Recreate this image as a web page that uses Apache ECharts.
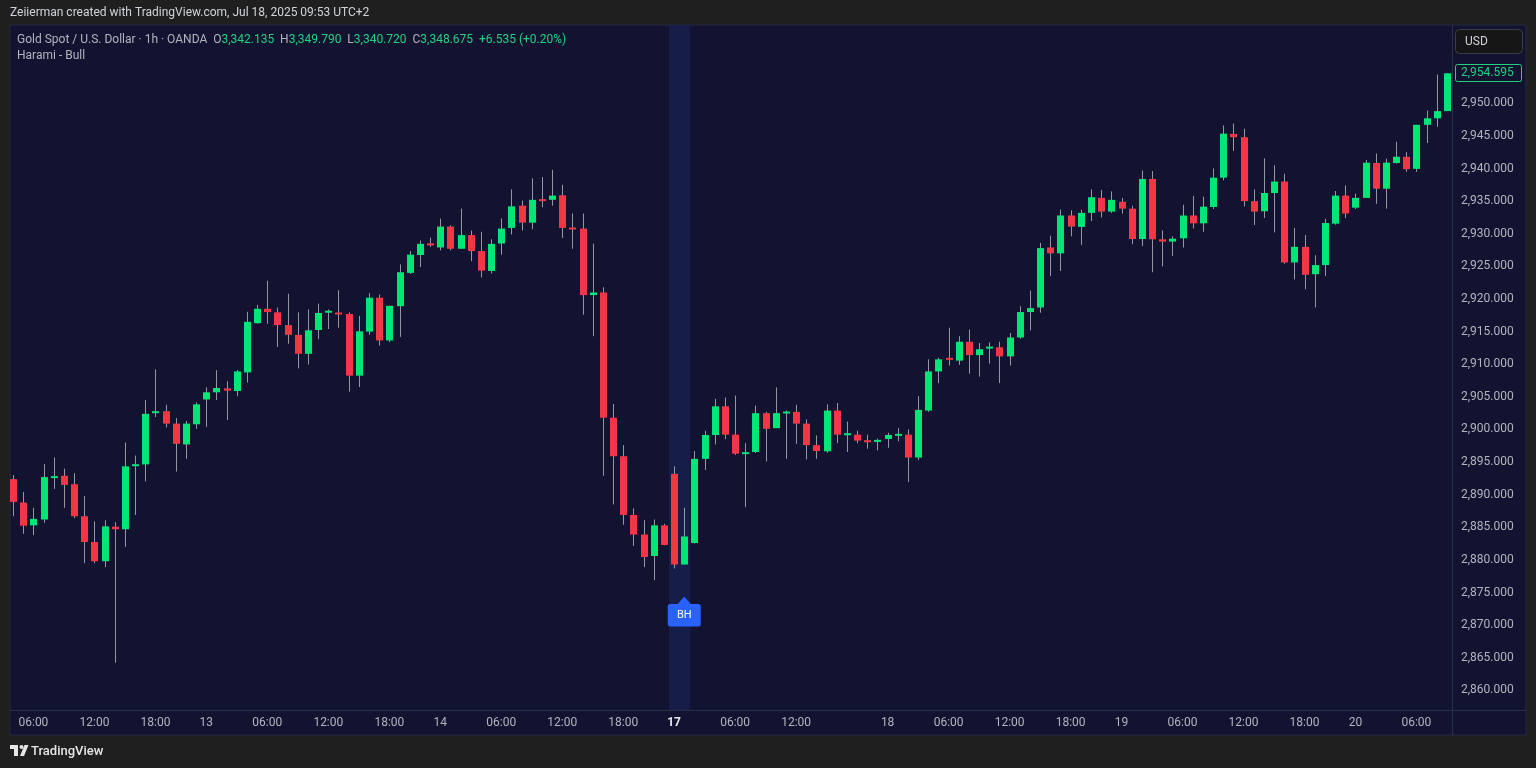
<!DOCTYPE html>
<html>
<head>
<meta charset="utf-8">
<script src="https://cdn.jsdelivr.net/npm/echarts@6/dist/echarts.min.js"></script>
<style>
html,body{margin:0;padding:0;background:#1f1f1f;}
#chart{width:1536px;height:768px;}
</style>
</head>
<body>
<div id="chart"></div>
<script>
// ---- trading sessions (day, first hour, last hour) used to build the time categories ----
const sessions = [['12',4,22],['13',0,22],['14',0,22],['17',0,20],['18',0,22],['19',0,22],['20',0,9]];

// ---- time axis tick labels (category index -> text) ----
const tickIdx  = [2,8,14,19,25,31,37,42,48,54,60,65,71,77,86,92,98,104,109,115,121,127,132,138];
const tickText = ['06:00','12:00','18:00','13','06:00','12:00','18:00','14','06:00','12:00','18:00','17','06:00','12:00','18','06:00','12:00','18:00','19','06:00','12:00','18:00','20','06:00'];

// ---- price axis tick labels ----
const yTicks = [2860,2865,2870,2875,2880,2885,2890,2895,2900,2905,2910,2915,2920,2925,2930,2935,2940,2945,2950];

// ---- OHLC values (1h candles) ----
const opens = [
2892.4,2888.8,2885.3,2886.2,2892.6,2892.9,2891.6,2886.7,2882.75,2879.8,
2885.1,2884.7,2894.45,2894.65,2902.5,2902.8,2900.9,2897.7,2900.8,2904.6,
2905.7,2906.3,2905.9,2908.75,2916.3,2918.5,2917.95,2916.0,2914.5,2911.6,
2915.25,2918.0,2917.9,2917.7,2908.25,2915.0,2920.2,2913.65,2918.9,2924.0,
2926.75,2928.5,2927.9,2931.1,2927.7,2929.8,2927.35,2924.3,2928.5,2930.9,
2934.3,2931.7,2935.2,2935.2,2935.9,2930.9,2930.8,2920.6,2921.0,2901.8,
2895.9,2886.9,2883.9,2880.6,2885.3,2893.2,2879.3,2882.6,2895.5,2899.15,
2903.55,2899.2,2896.25,2896.55,2902.5,2900.2,2902.5,2902.7,2900.9,2897.6,
2896.65,2902.9,2899.2,2899.2,2898.3,2898.1,2898.55,2899.1,2899.2,2895.7,
2902.9,2908.9,2910.95,2910.55,2913.45,2911.4,2912.4,2912.6,2911.2,2914.1,
2918.0,2918.7,2927.9,2927.0,2932.8,2931.05,2933.2,2935.5,2933.4,2934.9,
2933.85,2929.2,2938.4,2929.15,2928.8,2929.3,2932.8,2931.6,2934.1,2938.6,
2945.3,2944.8,2935.0,2933.45,2936.25,2938.0,2925.6,2928.0,2923.8,2925.2,
2931.55,2935.85,2934.0,2935.5,2940.85,2936.9,2940.85,2941.8,2939.95,2946.7,
2947.7,2948.8];
const highs = [
2893.0,2890.4,2888.0,2894.7,2895.7,2894.0,2893.3,2889.8,2885.9,2886.1,
2885.8,2898.0,2896.0,2904.5,2909.2,2903.8,2901.75,2901.3,2904.15,2906.45,
2909.1,2907.4,2909.1,2918.05,2919.1,2922.8,2918.7,2920.8,2917.95,2918.4,
2919.3,2918.4,2921.35,2917.95,2917.4,2920.9,2920.7,2919.0,2925.3,2927.35,
2928.95,2929.4,2932.3,2931.3,2933.85,2930.5,2930.3,2929.15,2932.35,2936.8,
2935.1,2938.5,2938.7,2939.8,2937.5,2933.1,2933.1,2928.5,2921.8,2903.9,
2897.6,2887.9,2886.1,2886.2,2885.55,2894.35,2888.0,2896.7,2899.8,2904.7,
2904.9,2905.2,2897.9,2903.65,2902.7,2906.45,2902.9,2903.8,2901.55,2899.1,
2903.85,2904.05,2901.2,2899.8,2899.2,2898.6,2899.5,2900.2,2900.0,2905.1,
2910.75,2911.0,2915.6,2914.3,2915.3,2913.25,2913.35,2913.45,2914.8,2918.9,
2921.3,2928.6,2929.7,2933.7,2933.6,2933.7,2936.8,2936.7,2936.5,2935.5,
2934.3,2939.7,2939.6,2930.5,2929.6,2934.45,2935.8,2935.7,2940.0,2946.6,
2946.9,2946.1,2936.8,2941.55,2940.5,2939.2,2930.9,2929.8,2926.7,2932.3,
2936.55,2937.4,2936.15,2941.3,2942.3,2941.5,2944.1,2942.5,2946.7,2948.9,
2954.4,2954.65];
const lows = [
2886.7,2884.0,2883.8,2885.7,2890.9,2888.0,2886.4,2879.5,2879.5,2878.9,
2864.25,2882.0,2886.9,2892.05,2901.9,2900.3,2893.55,2895.5,2900.1,2900.4,
2904.5,2901.45,2905.1,2907.2,2916.2,2916.2,2912.65,2913.15,2909.35,2909.95,
2913.85,2915.4,2915.6,2905.8,2906.5,2914.5,2912.85,2913.4,2914.2,2923.85,
2924.9,2928.0,2927.45,2927.45,2927.7,2925.8,2923.3,2923.9,2926.8,2929.9,
2930.5,2930.7,2934.05,2934.3,2929.35,2927.7,2917.6,2914.3,2892.9,2888.5,
2885.4,2882.15,2878.9,2876.9,2882.25,2878.7,2879.3,2882.5,2893.8,2897.7,
2898.5,2896.1,2888.1,2896.4,2895.1,2900.2,2895.5,2897.8,2895.4,2895.5,
2896.45,2897.9,2896.55,2897.9,2897.05,2896.8,2897.2,2898.2,2891.95,2895.3,
2902.7,2907.1,2909.8,2909.9,2908.55,2908.1,2910.1,2907.1,2909.8,2913.9,
2915.2,2917.9,2923.5,2924.3,2929.6,2928.3,2931.95,2932.5,2933.2,2933.1,
2928.4,2928.1,2924.1,2925.0,2926.6,2927.9,2930.8,2930.3,2933.8,2938.2,
2942.7,2934.2,2931.35,2932.4,2930.2,2925.4,2923.0,2921.5,2918.7,2923.5,
2931.4,2932.4,2933.8,2935.5,2934.6,2933.85,2940.75,2939.5,2939.5,2943.9,
2946.4,2948.8];
const closes = [
2888.9,2885.25,2886.3,2892.7,2892.8,2891.5,2886.7,2882.75,2879.8,2885.15,
2884.7,2894.35,2894.6,2902.4,2902.8,2900.9,2897.8,2900.9,2903.85,2905.7,
2906.35,2905.95,2908.9,2916.5,2918.5,2918.0,2916.0,2914.5,2911.6,2915.2,
2917.85,2918.1,2917.65,2908.25,2915.05,2920.2,2913.65,2918.95,2924.1,2926.8,
2928.45,2928.25,2931.1,2927.7,2929.8,2927.35,2924.35,2928.45,2930.8,2934.2,
2931.7,2935.2,2935.1,2935.85,2930.9,2930.7,2920.6,2921.0,2901.8,2895.9,
2886.9,2883.9,2880.45,2885.3,2882.3,2879.3,2883.6,2895.5,2899.15,2903.55,
2899.2,2896.3,2896.5,2902.5,2900.1,2902.5,2902.7,2900.9,2897.6,2896.7,
2902.9,2899.2,2899.35,2898.3,2898.1,2898.4,2899.15,2899.25,2895.7,2903.0,
2908.9,2910.75,2910.7,2913.45,2911.4,2912.3,2912.7,2911.2,2914.1,2918.0,
2918.6,2927.8,2927.0,2932.8,2931.1,2933.2,2935.6,2933.4,2935.2,2933.85,
2929.2,2938.4,2929.15,2928.8,2929.25,2932.8,2931.6,2934.15,2938.6,2945.35,
2944.8,2935.0,2933.4,2936.25,2938.0,2925.6,2928.0,2923.7,2925.2,2931.65,
2935.85,2933.1,2935.5,2940.9,2936.9,2940.9,2941.8,2939.9,2946.7,2947.7,
2948.8,2954.595];

// ---- pattern marker (Harami - Bull) ----
const patternStart = 65, patternEnd = 66, patternLabel = 'BH';

// ---- legend texts ----
const symbolTitle = 'Gold Spot / U.S. Dollar · 1h · OANDA';
const legendOHLC = [['O','3,342.135'],['H','3,349.790'],['L','3,340.720'],['C','3,348.675']];
const legendChange = '+6.535 (+0.20%)';
const indicatorName = 'Harami - Bull';
const creditText = 'Zeiierman created with TradingView.com, Jul 18, 2025 09:53 UTC+2';

// ---- build tables ----
const categories = [];
sessions.forEach(([d, h0, h1]) => { for (let h = h0; h <= h1; h++) categories.push(d + ' ' + String(h).padStart(2,'0') + ':00'); });
const candleData = opens.map((o, i) => [i, o, closes[i], lows[i], highs[i]]);
const tickMap = {}; tickIdx.forEach((ix, k) => tickMap[ix] = tickText[k]);

const UP = '#00e676', DOWN = '#f23645', WICK = '#9598a1';
const FONT = 'Roboto, "Noto Sans", sans-serif';

function renderCandle(params, api) {
  const x = api.value(0);
  const o = api.value(1), c = api.value(2), l = api.value(3), h = api.value(4);
  const pO = api.coord([x, o]), pC = api.coord([x, c]);
  const pL = api.coord([x, l]), pH = api.coord([x, h]);
  const bw = Math.round(api.size([1, 0])[0] * 0.68);
  const cx = Math.round(pO[0]);
  let top = Math.min(pO[1], pC[1]);
  let hgt = Math.abs(pO[1] - pC[1]);
  if (hgt < 2) { top = (pO[1] + pC[1]) / 2 - 1; hgt = 2; }
  return {
    type: 'group',
    children: [
      { type: 'line', shape: { x1: cx + 0.5, y1: pH[1], x2: cx + 0.5, y2: pL[1] }, style: { stroke: WICK, lineWidth: 1 } },
      { type: 'rect', shape: { x: cx + 0.5 - bw / 2, y: top, width: bw, height: hgt }, style: { fill: c >= o ? UP : DOWN } }
    ]
  };
}

// highlight band covering the pattern candles, full plot height
function renderBand(params, api) {
  const a = api.value(0), b = api.value(1);
  const step = api.size([1, 0])[0];
  const pa = api.coord([a, lows[a]]), pb = api.coord([b, lows[b]]);
  const cs = params.coordSys;
  const x0 = pa[0] - step / 2, x1 = pb[0] + step / 2 + 1;
  return { type: 'rect', shape: { x: x0, y: cs.y, width: x1 - x0, height: cs.height }, style: { fill: '#151d48' } };
}

const legendRich = '{t|' + symbolTitle + '}  ' + legendOHLC.map(([k, v]) => '{t|' + k + '}{v|' + v + '}').join('  ') + '  {v|' + legendChange + '}';

const chart = echarts.init(document.getElementById('chart'), null, { renderer: 'canvas' });
const option = {
  backgroundColor: '#1f1f1f',
  animation: false,
  grid: { left: 8, right: 84, top: 25, height: 685 },
  xAxis: {
    type: 'category',
    data: categories,
    boundaryGap: true,
    axisLine: { show: false },
    axisTick: { show: false },
    splitLine: { show: false },
    axisLabel: {
      interval: (i) => tickMap[i] !== undefined,
      formatter: (v, i) => tickMap[i] === '17' ? '{b|17}' : (tickMap[i] || ''),
      color: '#b2b5be', fontSize: 12, fontFamily: FONT, margin: 7,
      rich: { b: { color: '#e6e8ee', fontWeight: 'bold', fontSize: 12, fontFamily: FONT } }
    }
  },
  yAxis: {
    type: 'value',
    position: 'right',
    min: 2857, max: 2962,
    axisLine: { show: false },
    axisTick: { show: false },
    splitLine: { show: false },
    axisLabel: {
      customValues: yTicks,
      formatter: (v) => v.toLocaleString('en-US', { minimumFractionDigits: 3, maximumFractionDigits: 3 }),
      color: '#b2b5be', fontSize: 12, fontFamily: FONT, margin: 9
    }
  },
  series: [{
    type: 'custom',
    renderItem: renderBand,
    data: [[patternStart, patternEnd]],
    encode: { x: [0, 1] },
    silent: true,
    z: 1
  }, {
    type: 'custom',
    renderItem: renderCandle,
    data: candleData,
    encode: { x: 0, y: [1, 2, 3, 4] },
    clip: true,
    z: 5,
    markPoint: {
      silent: true,
      data: [{
        coord: [categories[patternEnd], lows[patternEnd]],
        symbol: 'path://M16.5,0 L23,7.5 L30.5,7.5 Q33,7.5 33,10 L33,27.5 Q33,30 30.5,30 L2.5,30 Q0,30 0,27.5 L0,10 Q0,7.5 2.5,7.5 L10,7.5 Z',
        symbolSize: [33, 30],
        symbolKeepAspect: false,
        symbolOffset: [0, 47],
        itemStyle: { color: '#2962ff' },
        label: { show: true, formatter: patternLabel, color: '#ffffff', fontSize: 11, fontFamily: FONT, offset: [0, 4] }
      }]
    }
  }],
  graphic: [
    { type: 'rect', z: -10, shape: { x: 10, y: 25, width: 1516, height: 710 }, style: { fill: '#121330', stroke: '#252a3e', lineWidth: 1 } },
    { type: 'line', z: 1, shape: { x1: 10, y1: 710.5, x2: 1526, y2: 710.5 }, style: { stroke: '#2a2e45', lineWidth: 1 } },
    { type: 'line', z: 1, shape: { x1: 1452.5, y1: 25, x2: 1452.5, y2: 735 }, style: { stroke: '#2a2e45', lineWidth: 1 } },
    { type: 'rect', z: 20, shape: { x: 1455.5, y: 29.5, width: 67, height: 24, r: 4 }, style: { fill: '#161616', stroke: '#3a3d48', lineWidth: 1 } },
    { type: 'text', z: 21, x: 1465, y: 41.5, style: { text: 'USD', fill: '#d1d4dc', font: '12px ' + FONT, verticalAlign: 'middle' } },
    { type: 'text', z: 21, x: 10, y: 13, style: { text: creditText, fill: '#d1d4dc', font: '12px ' + FONT, verticalAlign: 'middle' } },
    { type: 'text', z: 21, x: 17, y: 40, style: {
        text: legendRich, verticalAlign: 'middle', font: '12px ' + FONT,
        rich: { t: { fill: '#b2b5be', font: '12px ' + FONT }, v: { fill: '#22d17f', font: '12px ' + FONT } }
      } },
    { type: 'text', z: 21, x: 17, y: 56, style: { text: indicatorName, fill: '#b2b5be', font: '12px ' + FONT, verticalAlign: 'middle' } },
    // TradingView logo
    { type: 'group', z: 21, children: [
      { type: 'rect', shape: { x: 10, y: 745, width: 8, height: 4 }, style: { fill: '#e6e6e6' } },
      { type: 'rect', shape: { x: 14, y: 745, width: 4, height: 11 }, style: { fill: '#e6e6e6' } },
      { type: 'circle', shape: { cx: 21.5, cy: 747, r: 2 }, style: { fill: '#e6e6e6' } },
      { type: 'polygon', shape: { points: [[20, 756], [24.5, 745], [28.5, 745], [24, 756]] }, style: { fill: '#e6e6e6' } }
    ] },
    { type: 'text', z: 21, x: 31, y: 751.5, style: { text: 'TradingView', fill: '#e6e6e6', font: '500 13px ' + FONT, verticalAlign: 'middle' } }
  ]
};
chart.setOption(option);

// last price label on the price axis, positioned through the axis scale
const lastClose = closes[closes.length - 1];
const ly = chart.convertToPixel({ yAxisIndex: 0 }, lastClose);
chart.setOption({
  graphic: option.graphic.concat([
    { type: 'rect', z: 22, shape: { x: 1455.5, y: Math.round(ly) - 8.5, width: 66, height: 17, r: 2 }, style: { fill: '#121330', stroke: '#22d17f', lineWidth: 1 } },
    { type: 'text', z: 23, x: 1461, y: Math.round(ly), style: { text: lastClose.toLocaleString('en-US', { minimumFractionDigits: 3 }), fill: '#22d17f', font: '12px ' + FONT, verticalAlign: 'middle' } }
  ])
});
</script>
</body>
</html>
